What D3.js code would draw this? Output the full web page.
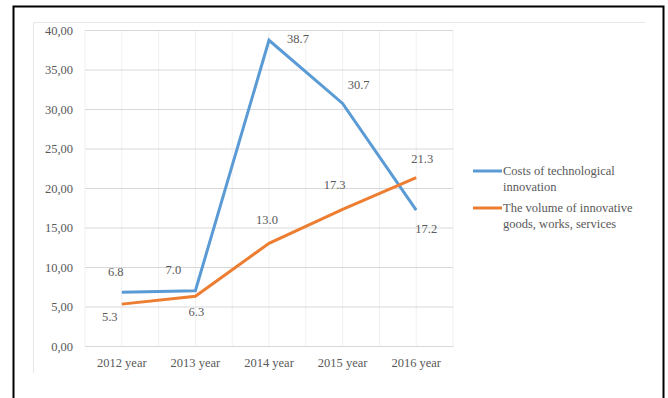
<!DOCTYPE html>
<html>
<head>
<meta charset="utf-8">
<script src="https://cdn.jsdelivr.net/npm/d3@7"></script>
<style>
  body { margin: 0; background: #fff; }
</style>
</head>
<body>
<svg id="chart" width="668" height="398"></svg>
<script>
const years = ["2012 year", "2013 year", "2014 year", "2015 year", "2016 year"];
const costs = [6.8, 7.0, 38.7, 30.7, 17.2];
const volume = [5.3, 6.3, 13.0, 17.3, 21.3];
const yTicks = [0, 5, 10, 15, 20, 25, 30, 35, 40];
const seriesNames = ["Costs of technological|innovation", "The volume of innovative|goods, works, services"];

// label placement (dx, dy from the point), picked by eye
const costLabelPos = [[-6, -21], [-22, -21], [29, -2], [16, -19], [10, 19]];
const volumeLabelPos = [[-12, 12], [1, 15], [-2, -24], [-8, -25], [6, -19]];

const FONT = "'Liberation Serif', 'Times New Roman', 'DejaVu Serif', serif";

const svg = d3.select("#chart").attr("font-family", FONT);
const margin = { left: 85, right: 215, top: 30, bottom: 52 };
const width = 668 - margin.left - margin.right;
const height = 398 - margin.top - margin.bottom;

// outer frame
svg.append("rect").attr("x", 13.5).attr("y", 6.5).attr("width", 650).attr("height", 400)
  .attr("fill", "none").attr("stroke", "#000").attr("stroke-width", 2);
svg.append("path").attr("d", "M33.5,373V22.5H645")
  .attr("fill", "none").attr("stroke", "#e6e6e6");

const x = d3.scaleBand().domain(years).range([0, width]);
const y = d3.scaleLinear().domain([0, 40]).range([height, 0]);

const g = svg.append("g").attr("transform", `translate(${margin.left},${margin.top})`);

// vertical grid at band edges and centres
const vLines = [];
years.forEach((d) => { vLines.push(x(d)); vLines.push(x(d) + x.bandwidth() / 2); });
vLines.push(width);
g.selectAll(".vgrid").data(vLines).join("line")
  .attr("x1", (d) => d).attr("x2", (d) => d)
  .attr("y1", 0).attr("y2", height)
  .attr("stroke", "#f0f0f0");

g.append("g").attr("class", "y-axis")
  .call(d3.axisLeft(y).tickValues(yTicks).tickSize(-width).tickPadding(12)
    .tickFormat((d) => d3.format(".2f")(d).replace(".", ",")))
  .attr("font-family", FONT)
  .call((a) => a.select(".domain").remove())
  .call((a) => a.selectAll("line").attr("stroke", "#d9d9d9"))
  .call((a) => a.selectAll("text").attr("fill", "#595959").attr("font-size", 12.5));

g.append("g").attr("transform", `translate(0,${height})`)
  .call(d3.axisBottom(x).tickSize(0).tickPadding(12))
  .attr("font-family", FONT)
  .call((a) => a.select(".domain").attr("stroke", "#d9d9d9"))
  .call((a) => a.selectAll("text").attr("fill", "#595959").attr("font-size", 12.5));

const line = d3.line().x((d, i) => x(years[i]) + x.bandwidth() / 2).y((d) => y(d));

const series = [
  { values: costs, color: "#5b9bd5", pos: costLabelPos },
  { values: volume, color: "#ed7d31", pos: volumeLabelPos }
];

series.forEach((s) => {
  g.append("path").datum(s.values).attr("d", line)
    .attr("fill", "none").attr("stroke", s.color).attr("stroke-width", 3);
});

series.forEach((s) => {
  g.selectAll(null).data(s.values).join("text")
    .attr("x", (d, i) => x(years[i]) + x.bandwidth() / 2 + s.pos[i][0])
    .attr("y", (d, i) => y(d) + s.pos[i][1])
    .attr("dy", "0.35em")
    .attr("text-anchor", "middle")
    .attr("font-size", 12.5).attr("fill", "#595959")
    .text((d) => d3.format(".1f")(d));
});

// legend
const legend = svg.append("g").attr("transform", "translate(473,171)");
seriesNames.forEach((name, i) => {
  const row = legend.append("g").attr("transform", `translate(0,${i * 37})`);
  row.append("line").attr("x1", 0).attr("x2", 29).attr("y1", 0).attr("y2", 0)
    .attr("stroke", series[i].color).attr("stroke-width", 3);
  row.selectAll("text").data(name.split("|")).join("text")
    .attr("x", 30).attr("y", (d, j) => j * 15.5)
    .attr("dy", "0.35em").attr("font-size", 12.5).attr("fill", "#595959")
    .text((d) => d);
});
</script>
</body>
</html>
